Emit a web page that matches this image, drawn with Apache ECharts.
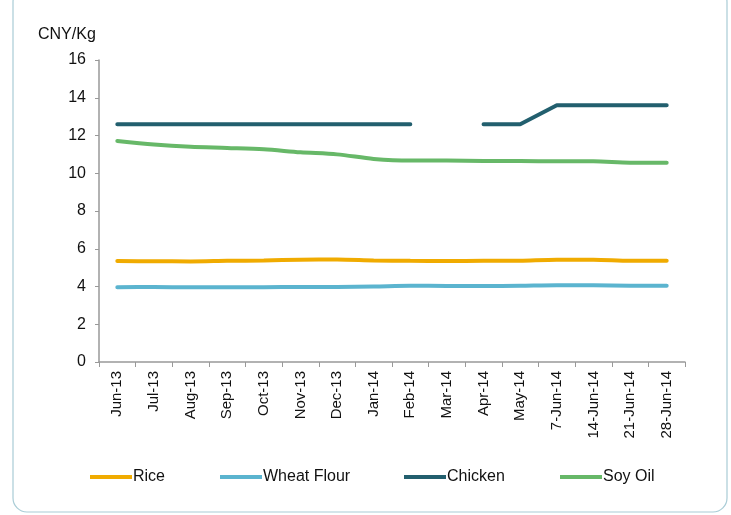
<!DOCTYPE html>
<html>
<head>
<meta charset="utf-8">
<script src="https://cdn.jsdelivr.net/npm/echarts@6/dist/echarts.min.js"></script>
<style>
  html, body { margin: 0; padding: 0; background: #fff; }
  #main { width: 731px; height: 515px; }
</style>
</head>
<body>
<div id="main"></div>
<script>
  // categories and values
  var categories = ['Jun-13', 'Jul-13', 'Aug-13', 'Sep-13', 'Oct-13', 'Nov-13', 'Dec-13', 'Jan-14',
    'Feb-14', 'Mar-14', 'Apr-14', 'May-14', '7-Jun-14', '14-Jun-14', '21-Jun-14', '28-Jun-14'];
  var rice = [5.35, 5.34, 5.33, 5.36, 5.38, 5.42, 5.43, 5.38, 5.36, 5.35, 5.36, 5.37, 5.42, 5.42, 5.36, 5.36];
  var wheatFlour = [3.96, 3.97, 3.96, 3.96, 3.96, 3.98, 3.98, 4.0, 4.04, 4.03, 4.02, 4.04, 4.07, 4.06, 4.04, 4.04];
  var chicken = [12.6, 12.6, 12.6, 12.6, 12.6, 12.6, 12.6, 12.6, 12.6, null, 12.6, 12.6, 13.6, 13.6, 13.6, 13.6];
  var soyOil = [11.71, 11.52, 11.4, 11.34, 11.27, 11.11, 11.0, 10.76, 10.67, 10.67, 10.65, 10.65, 10.63, 10.63, 10.56, 10.56];

  var font = '"Liberation Sans Narrow", "Liberation Sans", Arial, sans-serif';

  function line(name, data, color, smooth) {
    return {
      name: name,
      type: 'line',
      data: data,
      smooth: smooth,
      symbol: 'none',
      connectNulls: false,
      lineStyle: { width: 4, color: color, cap: 'round' },
      itemStyle: { color: color }
    };
  }

  function legendAt(name, left) {
    return {
      data: [name],
      left: left,
      top: 464,
      itemWidth: 42,
      itemHeight: 4,
      itemGap: 0,
      icon: 'rect',
      textStyle: { fontFamily: font, fontSize: 16, color: '#111', padding: [0, 0, 0, -4] }
    };
  }

  var myChart = echarts.init(document.getElementById('main'));
  myChart.setOption({
    animation: false,
    title: {
      text: 'CNY/Kg',
      left: 33,
      top: 22,
      textStyle: { fontFamily: font, fontSize: 16, fontWeight: 'normal', color: '#111' }
    },
    graphic: [{
      type: 'rect',
      shape: { x: 13, y: -12, width: 714, height: 524, r: 14 },
      style: { fill: 'none', stroke: '#a9ccd6', lineWidth: 1.2 },
      silent: true
    }],
    legend: [
      legendAt('Rice', 85),
      legendAt('Wheat Flour', 215),
      legendAt('Chicken', 399),
      legendAt('Soy Oil', 555)
    ],
    grid: { left: 99, right: 46, top: 60, bottom: 153 },
    xAxis: {
      type: 'category',
      data: categories,
      boundaryGap: true,
      axisLine: { lineStyle: { color: '#999', width: 1.5 } },
      axisTick: { show: true, alignWithLabel: false, length: 5, lineStyle: { color: '#999' } },
      axisLabel: {
        rotate: 90, interval: 0, margin: 9,
        fontFamily: font, fontSize: 15, color: '#111'
      }
    },
    yAxis: {
      type: 'value',
      min: 0,
      max: 16,
      interval: 2,
      splitLine: { show: false },
      axisLine: { show: true, lineStyle: { color: '#999', width: 1.5 } },
      axisTick: { show: true, length: 4, lineStyle: { color: '#999' } },
      axisLabel: { fontFamily: font, fontSize: 16, color: '#111', margin: 13 }
    },
    series: [
      line('Rice', rice, '#f0ab00', 0.3),
      line('Wheat Flour', wheatFlour, '#5bb4cf', 0.3),
      line('Chicken', chicken, '#225f6e', false),
      line('Soy Oil', soyOil, '#67b868', 0.3)
    ]
  });
</script>
</body>
</html>
